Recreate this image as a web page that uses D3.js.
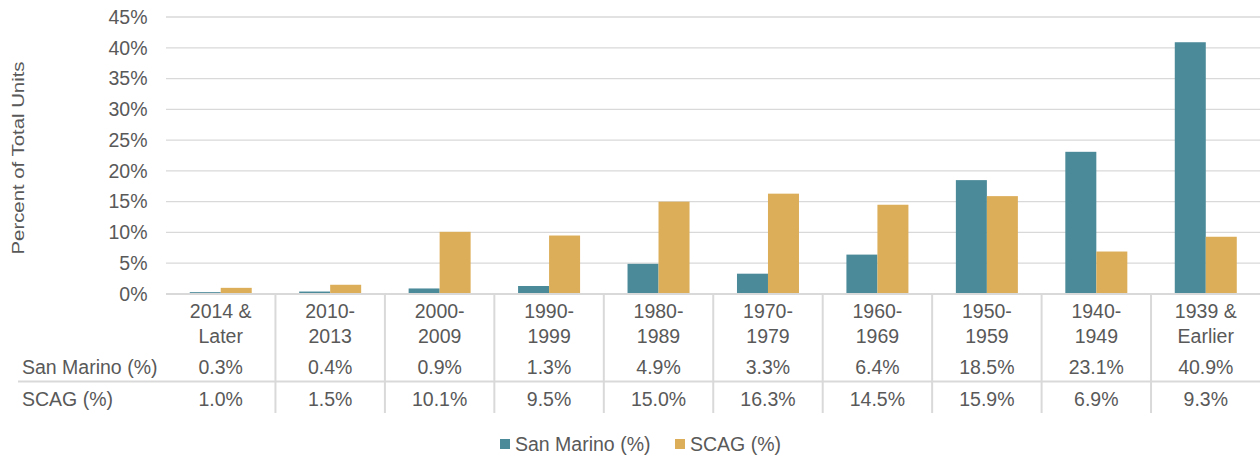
<!DOCTYPE html>
<html><head><meta charset="utf-8">
<script src="https://cdn.jsdelivr.net/npm/d3@7"></script>
<style>body{margin:0;background:#fff}svg{display:block}text{font-family:"Liberation Sans",Arial,sans-serif;fill:#595959}</style>
</head><body>
<svg id="c" width="1260" height="457"></svg>
<script>
const categories = ["2014 &\nLater","2010-\n2013","2000-\n2009","1990-\n1999","1980-\n1989","1970-\n1979","1960-\n1969","1950-\n1959","1940-\n1949","1939 &\nEarlier"];
const seriesNames = ["San Marino (%)","SCAG (%)"];
const sanMarino = [0.3,0.4,0.9,1.3,4.9,3.3,6.4,18.5,23.1,40.9];
const scag = [1.0,1.5,10.1,9.5,15.0,16.3,14.5,15.9,6.9,9.3];
const yTicks = [0,5,10,15,20,25,30,35,40,45];
const colors = ["#4a8a99","#dcae59"];

const svg = d3.select("#c");
const grid = "#d9d9d9";
const fs = "19.5px";
const x = d3.scaleBand().domain(categories).range([166,1260.5]).padding(0);
const x1 = d3.scaleBand().domain(seriesNames).range([0,62]);
const y = d3.scaleLinear().domain([0,45]).range([294,17]);
const series = [sanMarino, scag];

// gridlines
svg.append("g").selectAll("line").data(yTicks.filter(d=>d>0)).join("line")
  .attr("x1",166).attr("x2",1260).attr("y1",d=>y(d)).attr("y2",d=>y(d))
  .attr("stroke",grid).attr("stroke-width",1.3);

// y axis
const ya = svg.append("g").attr("transform","translate(147.5,0)")
  .call(d3.axisLeft(y).tickValues(yTicks).tickFormat(d=>d+"%").tickSize(0).tickPadding(0));
ya.select(".domain").remove();
ya.selectAll("text").style("font-size",fs).style("fill","#595959").style("font-family","'Liberation Sans',Arial,sans-serif");

// bars
series.forEach((vals,si)=>{
  svg.append("g").selectAll("rect").data(vals).join("rect")
    .attr("x",(d,i)=>x(categories[i]) + x.bandwidth()/2 - 31 + x1(seriesNames[si]))
    .attr("width",x1.bandwidth())
    .attr("y",d=>y(d)).attr("height",d=>y(0)-y(d))
    .attr("fill",colors[si]);
});

// axis baseline
svg.append("line").attr("x1",166).attr("x2",1260).attr("y1",294).attr("y2",294).attr("stroke",grid).attr("stroke-width",2);

// table lines
svg.append("line").attr("x1",18).attr("x2",1260).attr("y1",381.5).attr("y2",381.5).attr("stroke",grid).attr("stroke-width",2);
svg.append("g").selectAll("line").data(categories.slice(1)).join("line")
  .attr("x1",d=>x(d)).attr("x2",d=>x(d)).attr("y1",294).attr("y2",413)
  .attr("stroke",grid).attr("stroke-width",2);

// category labels
const cl = svg.append("g").selectAll("text").data(categories).join("text")
  .attr("text-anchor","middle").style("font-size",fs)
  .attr("transform",d=>`translate(${x(d)+x.bandwidth()/2},0)`);
cl.each(function(d){
  const t=d3.select(this);
  d.split("\n").forEach((ln,k)=>t.append("tspan").attr("x",0).attr("y",317.5+k*25).text(ln));
});

// table rows
const rowY = [373.5,405.5];
series.forEach((vals,si)=>{
  svg.append("text").attr("x",22).attr("y",rowY[si]).style("font-size",fs).text(seriesNames[si]);
  svg.append("g").selectAll("text").data(vals).join("text")
    .attr("x",(d,i)=>x(categories[i])+x.bandwidth()/2).attr("y",rowY[si])
    .attr("text-anchor","middle").style("font-size",fs)
    .text(d=>d.toFixed(1)+"%");
});

// y title
svg.append("text").attr("transform","translate(24,158) rotate(-90)")
  .attr("text-anchor","middle").style("font-size","16px")
  .attr("textLength",193).attr("lengthAdjust","spacingAndGlyphs")
  .text("Percent of Total Units");

// legend
const leg = [{x:500,tx:515},{x:675,tx:690}];
seriesNames.forEach((s,i)=>{
  svg.append("rect").attr("x",leg[i].x).attr("y",439).attr("width",10).attr("height",10).attr("fill",colors[i]);
  svg.append("text").attr("x",leg[i].tx).attr("y",451).style("font-size",fs).text(s);
});
</script>
</body></html>
